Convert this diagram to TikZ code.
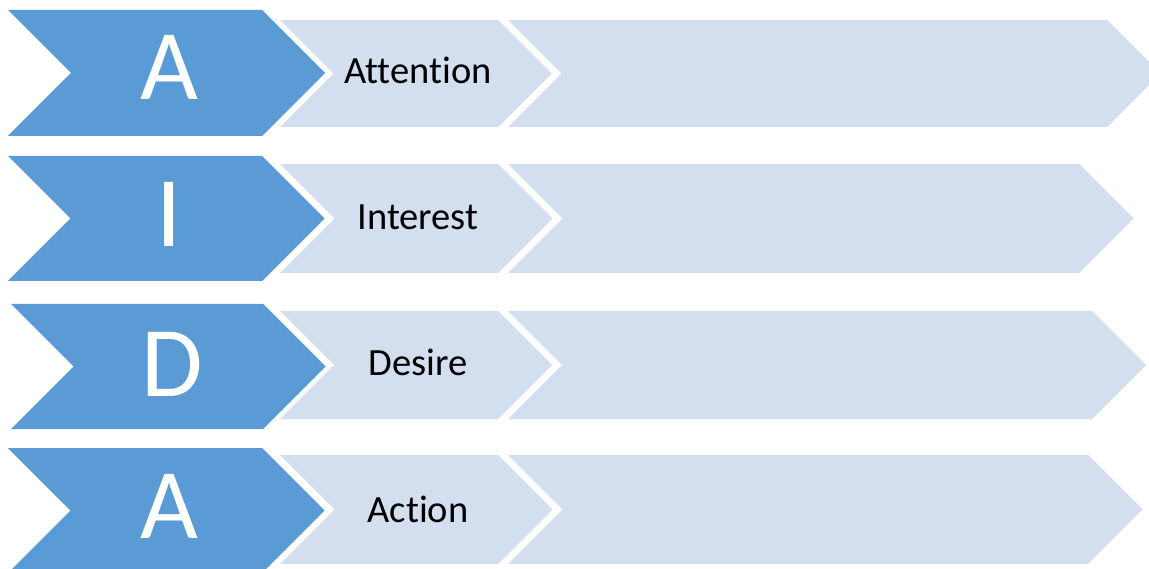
\documentclass[tikz,border=0pt]{standalone}
\usepackage{fontspec}
\setmainfont{Carlito}[Ligatures=NoCommon]
\definecolor{aidablue}{HTML}{5B9BD5}
\definecolor{aidapale}{HTML}{D3DEEF}

% chevron: fill colour, left x, corner x, top y, bottom y
\newcommand\aidachevron[5]{%
  \fill[#1] (#2,#4) -- (#3,#4) -- ({#3+(#5-#4)/2},{(#4+#5)/2})
    -- (#3,#5) -- (#2,#5) -- ({#2+(#5-#4)/2},{(#4+#5)/2}) -- cycle;}

\tikzset{
  letter/.style={inner sep=0pt, anchor=base, text=white,
    font=\fontsize{100}{100}\selectfont},
  stage/.style={inner sep=0pt, anchor=base, text=black,
    font=\fontsize{38.5}{38.5}\selectfont}
}

\begin{document}
\begin{tikzpicture}[x=1pt,y=-1pt]
\useasboundingbox (0,0) rectangle (1149,569);
\clip (0,0) rectangle (1149,569);
\fill[white] (0,0) rectangle (1149,569);

% row 1
\aidachevron{aidablue}{8}{262}{10}{136}
\aidachevron{aidapale}{280}{498}{20}{127}
\aidachevron{aidapale}{508}{1107}{20}{127}
% row 2
\aidachevron{aidablue}{8}{262}{156}{281}
\aidachevron{aidapale}{280}{498}{164}{273}
\aidachevron{aidapale}{508}{1079}{164}{273}
% row 3
\aidachevron{aidablue}{11}{263}{304}{429}
\aidachevron{aidapale}{280}{498}{311}{419}
\aidachevron{aidapale}{508}{1092}{311}{419}
% row 4
\aidachevron{aidablue}{8}{262}{448}{573}
\aidachevron{aidapale}{280}{498}{455}{564}
\aidachevron{aidapale}{508}{1088}{455}{564}

% letters
\node[letter] (l1) at (169,100) {A};
\node[letter] (l2) at (169,247) {I};
\node[letter] (l3) at (172,396) {D};
\node[letter] (l4) at (169,538) {A};

% stage names
\node[stage] (s1) at (418,84) {Attention};
\node[stage] (s2) at (418,230) {Interest};
\node[stage] (s3) at (418,375) {Desire};
\node[stage] (s4) at (418,522) {Action};
\end{tikzpicture}
\end{document}
